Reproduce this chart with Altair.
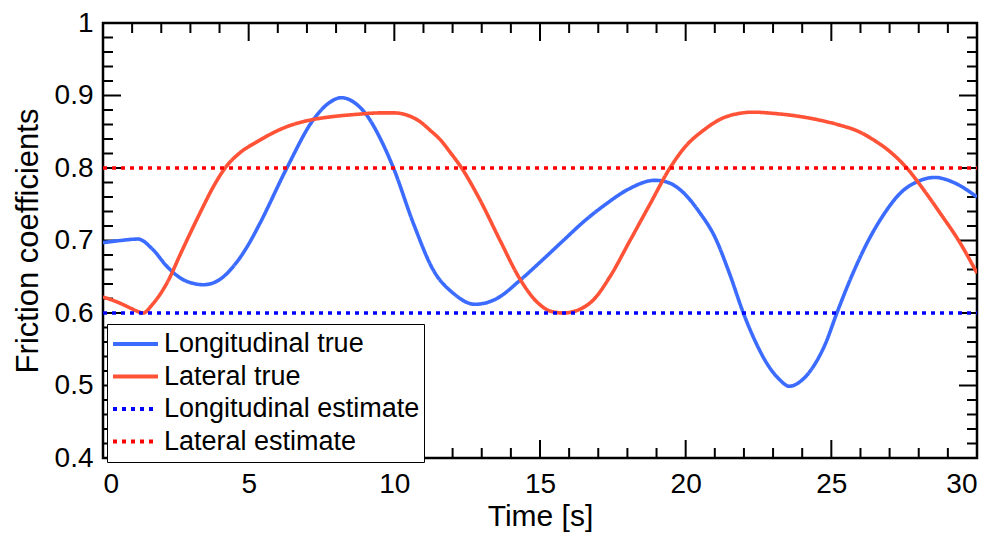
import altair as alt
import pandas as pd

# ---- data ----
long_t = [0, 0.6, 1.2, 1.7, 2.2, 2.8, 3.45, 4.0, 4.47, 5.0, 5.39, 6.31, 7.21, 7.7, 8.19,
          8.6, 9.05, 9.5, 9.97, 10.65, 11.34, 12.03, 12.77, 13.52, 14.31, 15.0, 15.8, 16.5,
          17.29, 18.0, 18.95, 19.4, 19.81, 20.49, 21.0, 21.5, 21.98, 22.4, 22.78, 23.2,
          23.56, 23.95, 24.38, 24.8, 25.19, 25.7, 26.22, 26.8, 27.36, 28.0, 28.56, 29.2, 30]
long_v = [0.697, 0.700, 0.702, 0.688, 0.664, 0.645, 0.639, 0.646, 0.664, 0.695, 0.724,
          0.800, 0.866, 0.888, 0.897, 0.891, 0.873, 0.842, 0.800, 0.724, 0.659, 0.627,
          0.612, 0.620, 0.645, 0.670, 0.700, 0.726, 0.751, 0.770, 0.783, 0.780, 0.770,
          0.738, 0.705, 0.655, 0.600, 0.560, 0.531, 0.509, 0.499, 0.506, 0.526, 0.558,
          0.600, 0.651, 0.696, 0.736, 0.765, 0.782, 0.787, 0.780, 0.760]

lat_t = [0, 0.5, 0.93, 1.2, 1.38, 1.7, 2.19, 2.7, 3.33, 3.8, 4.19, 4.7, 5.28, 6.31, 7.1,
         7.91, 8.7, 9.51, 10.0, 10.43, 10.88, 11.23, 11.6, 11.91, 12.31, 12.94, 13.63,
         14.31, 14.9, 15.4, 15.8, 16.3, 16.83, 17.4, 18.09, 18.8, 19.46, 20.0, 20.61,
         21.41, 22.32, 23.1, 23.93, 24.6, 25.3, 25.9, 26.44, 27.0, 27.59, 28.15, 28.73,
         29.4, 30]
lat_v = [0.622, 0.615, 0.607, 0.602, 0.600, 0.612, 0.641, 0.685, 0.738, 0.775, 0.800,
         0.821, 0.836, 0.857, 0.866, 0.871, 0.874, 0.876, 0.876, 0.873, 0.864, 0.852,
         0.838, 0.822, 0.800, 0.756, 0.700, 0.647, 0.615, 0.602, 0.600, 0.604, 0.618,
         0.650, 0.700, 0.752, 0.800, 0.830, 0.852, 0.871, 0.877, 0.875, 0.871, 0.866,
         0.859, 0.851, 0.839, 0.823, 0.800, 0.771, 0.738, 0.698, 0.655]

est_t = [0, 30]
long_est = [0.6, 0.6]
lat_est = [0.8, 0.8]

series = ["Longitudinal true", "Lateral true", "Longitudinal estimate", "Lateral estimate"]
colors = ["#3b6cff", "#ff5236", "#0000ff", "#ff0000"]
dashes = [[1, 0], [1, 0], [4, 5], [4, 5]]

x_major = [0, 5, 10, 15, 20, 25, 30]
x_minor = [v for v in range(1, 30) if v % 5 != 0]
y_major = [0.4, 0.5, 0.6, 0.7, 0.8, 0.9, 1.0]
y_minor = [0.42, 0.44, 0.46, 0.48, 0.52, 0.54, 0.56, 0.58, 0.62, 0.64, 0.66, 0.68,
           0.72, 0.74, 0.76, 0.78, 0.82, 0.84, 0.86, 0.88, 0.92, 0.94, 0.96, 0.98]

W, H = 874, 435
FONT = "Liberation Sans"

rows = []
for t, v in zip(long_t, long_v):
    rows.append({"t": t, "v": v, "s": series[0]})
for t, v in zip(lat_t, lat_v):
    rows.append({"t": t, "v": v, "s": series[1]})
for t, v in zip(est_t, long_est):
    rows.append({"t": t, "v": v, "s": series[2]})
for t, v in zip(est_t, lat_est):
    rows.append({"t": t, "v": v, "s": series[3]})
df = pd.DataFrame(rows)

xs = alt.Scale(domain=[0, 30], nice=False, zero=False)
ys = alt.Scale(domain=[0.4, 1.0], nice=False, zero=False)

lines = alt.Chart(df).mark_line(strokeWidth=3.6, interpolate="monotone", clip=True).encode(
    x=alt.X("t:Q", scale=xs,
            axis=alt.Axis(values=x_major, title="Time [s]", domain=False, ticks=False,
                          grid=False, labelPadding=12, titlePadding=3, titleFontSize=30)),
    y=alt.Y("v:Q", scale=ys,
            axis=alt.Axis(values=y_major, format="~g", title="Friction coefficients",
                          domain=False, ticks=False, grid=False, labelPadding=10,
                          titlePadding=10, titleFontSize=31)),
    color=alt.Color("s:N", scale=alt.Scale(domain=series, range=colors),
                    legend=alt.Legend(title=None, orient="none", legendX=4, legendY=301)),
    strokeDash=alt.StrokeDash("s:N", scale=alt.Scale(domain=series, range=dashes),
                              legend=alt.Legend(title=None, orient="none", legendX=4, legendY=301)),
    detail="s:N",
)

def xticks(vals, length):
    d = pd.DataFrame({"t": vals})
    top = alt.Chart(d).mark_rule(color="black", strokeWidth=2).encode(
        x=alt.X("t:Q", scale=xs), y=alt.value(0), y2=alt.value(length))
    bot = alt.Chart(d).mark_rule(color="black", strokeWidth=2).encode(
        x=alt.X("t:Q", scale=xs), y=alt.value(H), y2=alt.value(H - length))
    return top + bot

def yticks(vals, length):
    d = pd.DataFrame({"v": vals})
    left = alt.Chart(d).mark_rule(color="black", strokeWidth=2).encode(
        y=alt.Y("v:Q", scale=ys), x=alt.value(0), x2=alt.value(length))
    right = alt.Chart(d).mark_rule(color="black", strokeWidth=2).encode(
        y=alt.Y("v:Q", scale=ys), x=alt.value(W), x2=alt.value(W - length))
    return left + right

chart = alt.layer(
    xticks(x_major, 18), xticks(x_minor, 10), yticks(y_major, 18), yticks(y_minor, 10), lines
).properties(
    width=W, height=H,
    autosize=alt.AutoSizeParams(type="none"),
    padding={"left": 103, "top": 23, "right": 26, "bottom": 82},
).configure_view(
    stroke="black", strokeWidth=2.5
).configure_axis(
    labelFont=FONT, titleFont=FONT, labelFontSize=28,
    labelColor="black", titleColor="black", titleFontWeight="normal"
).configure_legend(
    labelFont=FONT, labelFontSize=27, labelColor="black", labelLimit=500,
    symbolType="stroke", symbolSize=2025, symbolStrokeWidth=4, clipHeight=32,
    rowPadding=0.5, padding=4, labelOffset=4, strokeColor="black", fillColor="white",
    cornerRadius=0
)

chart.save("out.html", embed_options={"renderer": "svg", "actions": False})
